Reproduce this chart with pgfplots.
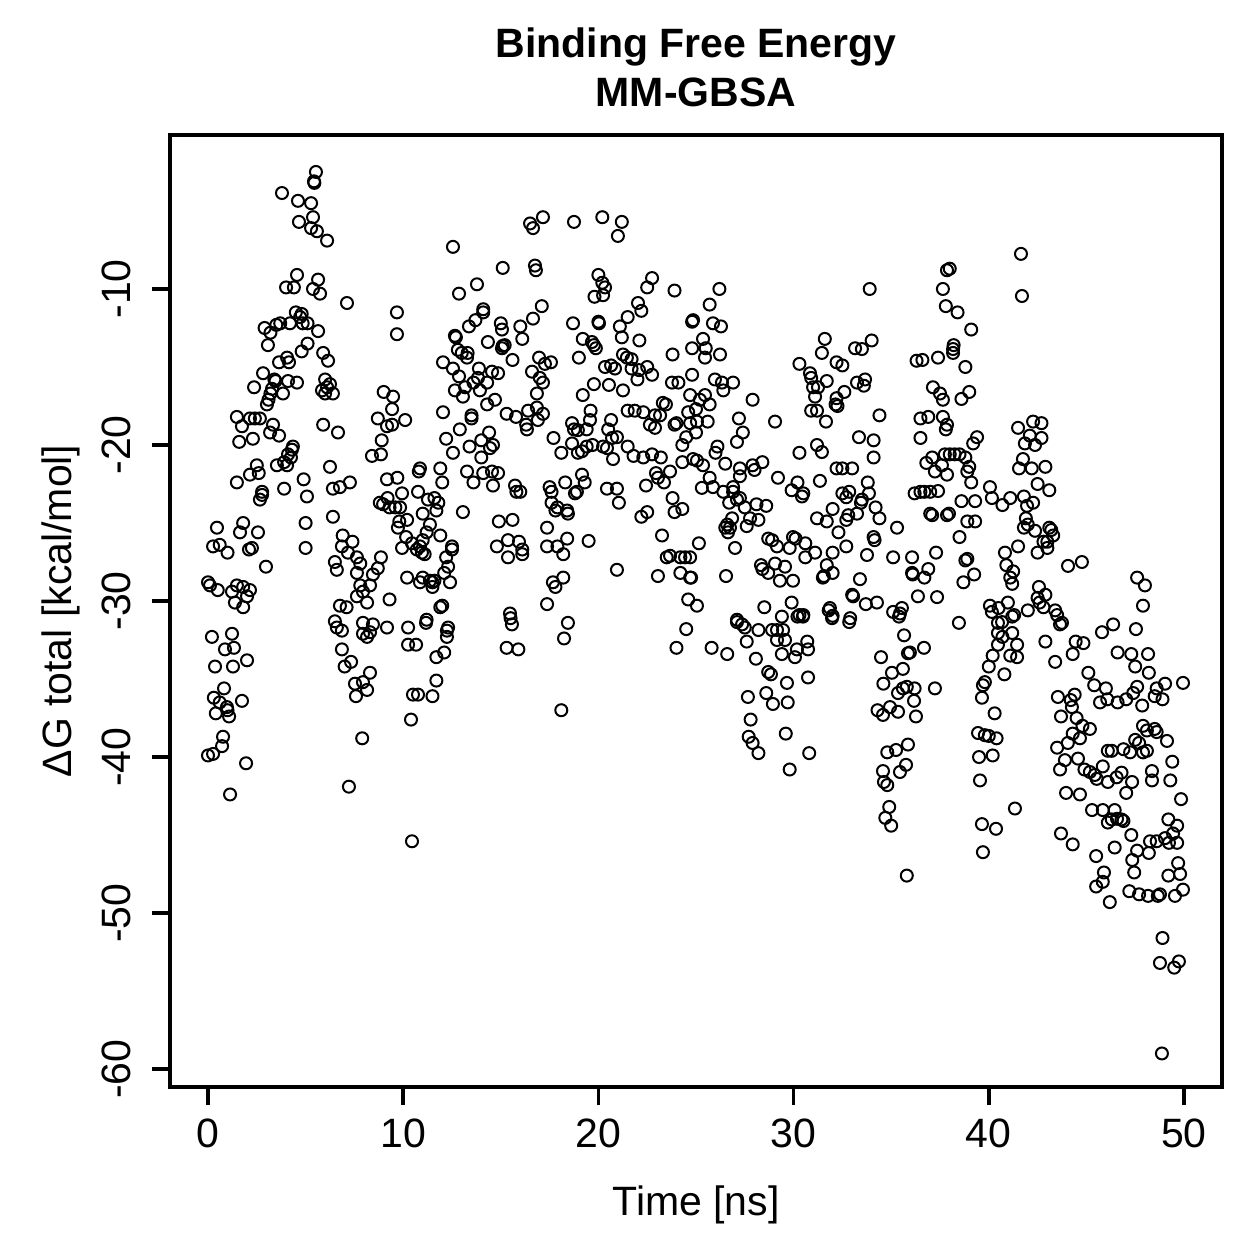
\documentclass[border=0pt]{standalone}
\usepackage{fontspec}
\setmainfont{Liberation Sans}
\usepackage{pgfplots}
\usepackage{pgfplotstable}
\pgfplotsset{compat=1.18}

% MM-GBSA binding free energy per frame (time in ns, energy in kcal/mol)
\pgfplotstableread{
t dg
5.53 -2.5
5.43 -3.1
5.45 -3.2
3.79 -3.85
4.61 -4.35
5.28 -4.5
5.38 -5.4
4.66 -5.7
5.28 -6.1
5.58 -6.3
6.10 -6.9
4.56 -9.1
5.64 -9.4
4.00 -9.9
4.40 -9.9
5.38 -10.0
5.74 -10.3
7.12 -10.9
9.68 -11.5
9.68 -12.9
4.50 -11.5
4.80 -11.6
4.72 -11.8
4.85 -12.2
5.10 -12.2
5.64 -12.7
2.90 -12.5
3.20 -12.8
3.50 -12.3
3.70 -12.2
4.20 -12.2
3.07 -13.6
5.10 -13.5
4.80 -14.0
5.90 -14.1
6.15 -14.6
3.64 -14.7
4.05 -14.4
4.15 -14.7
2.82 -15.4
3.40 -15.8
3.46 -15.9
4.10 -15.9
4.56 -16.0
2.36 -16.3
3.20 -16.7
3.28 -16.4
3.84 -16.7
6.00 -15.8
6.10 -16.3
6.25 -16.1
5.84 -16.5
6.00 -16.7
6.40 -16.7
3.02 -17.4
3.10 -17.1
1.48 -18.2
1.74 -18.8
2.15 -18.3
2.40 -18.3
2.66 -18.3
3.33 -18.7
3.18 -19.2
3.64 -19.4
1.60 -19.8
2.30 -19.6
5.90 -18.7
6.66 -19.2
9.00 -16.6
9.48 -16.9
9.43 -17.7
8.70 -18.3
9.17 -18.8
9.43 -18.7
10.10 -18.4
12.04 -14.7
12.04 -17.9
12.20 -19.6
8.90 -19.7
8.40 -20.7
8.86 -20.6
4.35 -20.1
4.30 -20.3
4.10 -20.6
2.50 -21.3
2.15 -21.9
2.60 -21.8
3.53 -21.3
3.90 -21.1
4.05 -21.3
4.25 -20.8
1.48 -22.4
2.77 -23.0
2.77 -23.2
2.66 -23.5
3.90 -22.8
4.90 -22.2
5.07 -23.3
6.25 -21.4
6.40 -22.8
6.76 -22.7
7.27 -22.4
6.40 -24.6
0.46 -25.3
1.80 -25.0
1.64 -25.6
2.56 -25.6
0.26 -26.5
0.60 -26.4
1.00 -26.9
2.10 -26.7
2.25 -26.6
2.97 -27.8
5.00 -25.0
5.00 -26.6
6.90 -25.8
7.40 -26.2
6.86 -26.5
7.17 -26.9
7.63 -27.2
7.80 -27.6
7.63 -28.2
6.50 -27.5
6.60 -28.0
8.86 -27.2
8.70 -27.9
8.45 -28.3
8.30 -29.0
7.80 -29.0
7.94 -29.4
7.63 -29.7
8.15 -30.1
9.30 -29.9
0.00 -28.8
0.10 -29.0
0.50 -29.3
1.23 -29.4
1.48 -29.0
1.80 -29.1
2.15 -29.3
2.00 -29.7
1.38 -30.1
1.80 -30.4
6.76 -30.3
7.10 -30.4
10.20 -28.5
9.17 -22.2
9.70 -22.1
9.94 -23.1
9.20 -23.4
8.80 -23.7
8.97 -23.8
9.30 -24.0
9.60 -24.0
9.84 -24.0
9.80 -24.9
9.73 -25.3
10.20 -24.8
10.15 -25.9
9.94 -26.6
10.45 -26.3
10.70 -26.7
10.86 -28.8
11.00 -28.5
11.50 -29.1
11.50 -28.8
12.00 -30.3
10.86 -21.5
10.80 -21.7
11.90 -21.5
12.00 -22.4
10.76 -23.0
11.27 -23.5
11.60 -23.4
11.80 -23.7
11.70 -24.2
11.00 -24.4
11.37 -25.1
11.20 -25.6
11.00 -26.1
10.86 -26.5
11.10 -27.0
10.96 -26.9
12.20 -27.2
12.30 -27.8
12.10 -28.2
11.37 -28.7
11.60 -28.7
11.90 -30.4
11.20 -31.2
0.20 -32.3
1.23 -32.1
0.87 -33.1
1.33 -33.0
0.36 -34.2
1.28 -34.2
2.00 -33.8
0.82 -35.6
0.30 -36.2
0.60 -36.5
0.97 -36.8
1.00 -37.0
1.08 -37.4
0.40 -37.2
1.74 -36.4
0.77 -38.7
0.72 -39.3
0.00 -39.9
0.26 -39.8
1.95 -40.4
1.13 -42.4
6.50 -31.3
6.60 -31.7
6.86 -31.9
7.94 -31.4
8.45 -31.5
9.17 -31.7
7.94 -32.1
8.15 -32.3
8.30 -32.0
6.86 -33.1
7.33 -33.9
7.00 -34.2
8.30 -34.6
7.94 -35.2
7.53 -35.3
8.15 -35.7
7.58 -36.1
7.90 -38.8
7.22 -41.9
10.25 -31.7
11.17 -31.4
10.25 -32.8
10.66 -32.8
11.70 -33.6
12.10 -33.3
12.24 -31.9
12.24 -32.3
11.70 -35.1
10.50 -36.0
10.76 -36.0
11.50 -36.1
10.40 -37.6
10.45 -45.4
16.50 -5.8
16.65 -6.1
17.16 -5.4
18.75 -5.7
20.20 -5.4
21.20 -5.7
21.00 -6.6
12.55 -7.3
15.10 -8.65
16.75 -8.5
16.80 -8.8
12.86 -10.3
13.78 -9.7
20.00 -9.1
20.20 -9.6
20.34 -9.9
19.80 -10.5
20.24 -10.4
22.75 -9.3
22.50 -9.9
23.90 -10.1
17.10 -11.1
16.65 -11.9
16.00 -12.4
16.10 -13.2
15.00 -12.2
15.06 -12.6
14.10 -11.3
14.10 -11.5
13.70 -12.0
13.37 -12.4
18.70 -12.2
20.00 -12.1
20.03 -12.2
22.03 -10.9
22.20 -11.4
21.50 -11.8
21.10 -12.4
21.20 -13.1
22.10 -13.3
24.80 -12.1
24.85 -12.0
12.65 -13.0
12.70 -13.1
14.34 -13.4
15.10 -13.65
15.20 -13.6
15.06 -13.8
19.20 -13.2
19.67 -13.4
19.77 -13.6
19.87 -13.8
24.80 -13.8
12.80 -13.9
13.00 -14.1
13.30 -14.1
13.27 -14.4
15.60 -14.55
16.96 -14.4
17.26 -14.8
17.57 -14.7
16.60 -15.3
17.00 -15.7
17.16 -16.0
16.85 -16.7
19.00 -14.4
21.26 -14.2
21.46 -14.4
21.70 -14.5
20.34 -15.0
20.65 -14.9
20.85 -15.1
21.70 -15.1
22.08 -15.2
22.50 -15.0
22.75 -15.5
22.00 -15.8
23.80 -14.2
24.80 -15.5
23.77 -16.0
24.10 -16.0
24.70 -16.8
12.55 -15.1
12.86 -15.6
13.17 -16.3
13.60 -16.0
13.88 -15.1
13.83 -15.7
13.93 -16.5
14.30 -16.0
14.55 -15.3
14.86 -15.4
14.70 -17.1
14.30 -17.4
12.65 -16.5
13.06 -16.9
16.85 -17.6
17.16 -18.0
16.40 -17.8
16.30 -18.7
16.34 -19.0
16.90 -18.4
15.78 -18.2
15.30 -18.0
19.20 -16.8
19.77 -16.1
20.54 -16.15
21.26 -16.5
19.60 -17.8
19.57 -18.4
18.65 -18.6
18.75 -19.0
18.95 -19.05
19.40 -19.0
20.65 -18.4
20.50 -19.0
21.50 -17.8
21.86 -17.8
22.30 -17.9
22.64 -18.7
22.90 -18.9
23.30 -17.3
23.46 -17.4
23.16 -18.1
22.90 -18.1
24.00 -18.6
23.90 -18.7
24.50 -19.5
24.30 -20.0
24.60 -17.9
25.00 -17.7
25.00 -19.2
12.90 -19.0
13.40 -20.1
12.55 -20.5
13.50 -18.3
13.50 -18.1
14.40 -19.2
14.00 -19.7
14.45 -20.2
14.60 -20.0
14.00 -20.8
17.70 -19.55
18.10 -20.5
18.65 -19.9
18.95 -20.5
19.16 -20.4
19.40 -20.1
19.70 -20.0
20.24 -20.1
20.44 -20.2
20.75 -20.9
20.70 -19.55
20.95 -19.5
21.50 -20.1
21.80 -20.7
22.30 -20.8
22.75 -20.6
23.20 -20.8
23.67 -21.7
24.30 -21.1
24.85 -20.9
13.27 -21.7
13.60 -22.4
14.10 -21.8
14.55 -21.7
14.86 -21.8
14.60 -22.6
15.73 -22.6
15.80 -23.0
16.00 -23.0
17.50 -22.7
17.60 -23.0
18.30 -22.4
18.90 -23.0
18.80 -23.1
19.16 -21.9
19.30 -22.4
20.44 -22.8
20.95 -22.8
21.05 -23.7
22.44 -22.6
22.95 -21.8
23.05 -22.1
23.36 -22.4
23.80 -23.4
23.90 -24.3
24.30 -24.1
22.20 -24.6
22.50 -24.3
17.60 -23.7
17.90 -24.0
17.80 -24.2
18.40 -24.2
18.44 -24.4
17.37 -25.3
17.37 -26.5
11.90 -25.8
13.06 -24.3
14.90 -24.9
15.60 -24.8
15.37 -26.1
15.93 -26.2
16.10 -26.7
16.10 -27.0
14.80 -26.5
15.37 -27.2
17.90 -26.5
18.20 -27.0
18.40 -26.0
19.50 -26.15
20.95 -28.0
23.26 -25.8
23.67 -27.1
23.50 -27.2
24.20 -27.2
24.44 -27.2
24.20 -28.2
24.75 -28.5
23.05 -28.4
12.50 -26.5
12.50 -26.7
12.40 -28.8
17.67 -28.8
17.80 -29.1
18.20 -28.5
17.37 -30.2
24.60 -29.9
25.05 -30.3
12.30 -31.7
15.47 -30.8
15.50 -31.1
15.57 -31.5
15.30 -33.0
15.90 -33.1
18.44 -31.4
18.24 -32.4
18.10 -37.0
24.50 -31.8
24.00 -33.0
26.20 -10.0
25.70 -11.0
33.90 -10.0
37.86 -8.8
37.65 -10.0
37.80 -11.1
25.87 -12.2
26.28 -12.4
25.36 -13.2
25.50 -13.8
25.46 -14.4
26.23 -14.2
25.97 -15.8
26.33 -16.0
26.90 -16.0
26.40 -16.5
25.46 -16.8
25.20 -17.1
25.70 -17.4
27.90 -17.1
27.20 -18.3
27.40 -19.2
27.10 -19.8
29.05 -18.5
25.05 -18.5
25.60 -18.5
24.70 -18.6
26.10 -20.1
26.00 -20.5
25.05 -21.0
25.36 -21.3
26.50 -21.2
27.25 -21.5
27.25 -22.0
27.90 -21.3
28.00 -21.6
28.40 -21.1
29.20 -22.1
25.70 -22.1
25.30 -22.75
25.87 -22.7
26.40 -23.0
26.90 -22.7
26.90 -23.0
27.25 -23.4
27.10 -23.5
26.70 -23.7
27.50 -24.0
28.10 -23.8
28.60 -23.9
26.85 -24.7
26.60 -25.1
26.74 -25.3
26.50 -25.3
26.64 -25.6
27.77 -24.7
28.20 -24.8
27.60 -25.2
27.00 -26.6
25.15 -26.3
24.70 -27.2
26.54 -28.4
24.70 -28.5
28.70 -26.0
28.90 -26.1
29.15 -26.5
29.80 -26.6
29.97 -25.9
30.10 -26.0
30.60 -26.3
30.60 -27.2
31.10 -26.9
28.33 -27.7
28.40 -27.95
28.70 -28.2
29.05 -27.6
29.30 -28.7
29.56 -27.8
29.97 -28.7
29.90 -30.1
30.30 -30.9
30.50 -30.9
28.50 -30.4
27.10 -31.2
29.40 -31.0
30.30 -20.5
31.20 -20.0
31.45 -20.45
31.60 -13.2
31.45 -14.1
31.66 -18.5
31.20 -17.8
30.90 -17.8
31.10 -16.9
30.84 -15.4
30.90 -15.7
31.00 -16.3
31.25 -16.3
31.70 -15.9
32.20 -14.7
32.50 -14.9
32.60 -16.6
32.20 -17.0
32.15 -17.4
32.25 -17.5
30.30 -14.8
33.15 -13.8
33.50 -13.85
34.00 -13.3
33.25 -16.0
33.66 -15.8
33.60 -16.2
33.35 -19.5
34.10 -19.7
34.10 -20.8
34.40 -18.1
32.20 -21.5
32.50 -21.5
33.00 -21.5
31.35 -22.3
30.20 -22.4
29.90 -22.9
30.50 -23.1
30.43 -23.3
33.80 -22.4
33.86 -23.1
32.50 -23.1
32.70 -23.35
32.85 -23.0
33.50 -23.5
33.45 -23.7
33.25 -24.4
32.80 -24.5
32.70 -24.8
32.00 -24.1
31.70 -24.9
31.20 -24.7
32.30 -25.6
34.20 -24.0
34.40 -24.7
34.10 -25.9
34.15 -26.1
35.30 -25.3
32.70 -26.5
33.76 -27.05
35.10 -27.2
32.00 -26.9
31.70 -27.7
32.00 -28.2
31.50 -28.5
31.55 -28.4
33.40 -28.6
33.00 -29.6
33.05 -29.7
33.70 -30.2
34.27 -30.1
31.86 -30.45
32.00 -30.95
32.90 -31.1
36.07 -27.2
36.07 -28.2
36.10 -28.3
36.70 -28.5
36.90 -27.95
37.30 -26.9
36.37 -29.7
37.35 -29.75
35.10 -30.7
35.45 -30.8
35.55 -30.45
36.30 -14.6
36.60 -14.55
37.40 -14.4
37.14 -16.3
37.50 -16.7
37.65 -17.1
37.65 -18.2
37.86 -18.7
36.50 -18.3
36.90 -18.2
36.50 -19.55
37.10 -20.8
36.80 -21.15
37.24 -21.7
37.60 -21.3
37.86 -21.9
37.75 -20.6
36.20 -23.1
36.50 -23.0
36.70 -23.0
37.00 -23.0
37.40 -22.95
37.00 -24.4
37.10 -24.5
37.86 -24.5
41.65 -7.75
41.70 -10.45
38.00 -8.7
38.40 -11.5
39.10 -12.6
38.20 -13.6
38.17 -13.85
38.17 -14.1
38.80 -15.0
39.00 -16.6
38.60 -17.05
37.80 -19.0
39.40 -19.5
39.20 -19.9
38.00 -20.6
38.25 -20.6
38.50 -20.6
38.80 -20.8
39.00 -21.4
38.90 -21.7
39.10 -22.4
38.60 -23.6
39.30 -23.6
37.96 -24.4
38.90 -24.9
39.30 -24.9
38.50 -25.9
38.80 -27.4
38.90 -27.3
38.70 -28.8
39.25 -28.3
40.06 -22.7
40.16 -23.4
40.70 -23.85
41.10 -23.4
41.80 -23.3
41.96 -23.9
42.27 -23.7
41.50 -18.9
42.27 -18.5
42.70 -18.6
42.10 -19.4
41.85 -19.9
42.37 -20.0
42.70 -19.55
41.75 -20.9
41.55 -21.5
42.20 -21.5
42.90 -21.4
42.50 -22.5
43.10 -22.9
41.90 -24.7
41.80 -25.3
42.00 -25.1
42.37 -25.5
43.10 -25.3
43.20 -25.45
43.30 -25.8
43.00 -26.2
42.80 -26.2
43.00 -26.6
42.50 -26.9
41.50 -26.5
40.83 -26.9
40.90 -27.7
41.10 -28.5
41.25 -28.1
41.20 -28.9
42.57 -29.1
42.90 -29.6
42.50 -29.8
42.80 -30.4
42.00 -30.6
40.06 -30.3
40.16 -30.7
40.50 -30.45
40.98 -30.1
41.30 -30.9
44.06 -27.75
44.77 -27.5
47.60 -28.5
48.00 -29.0
47.90 -30.3
27.10 -31.35
27.36 -31.5
27.50 -31.7
27.60 -32.6
28.20 -31.86
28.90 -31.86
29.15 -31.86
29.46 -31.86
29.15 -32.5
29.56 -32.5
30.20 -31.0
30.48 -31.0
31.80 -30.6
31.97 -31.1
32.85 -31.35
25.80 -33.0
26.60 -33.4
28.07 -33.7
28.70 -34.55
28.84 -34.7
29.66 -35.25
29.40 -33.4
30.07 -33.6
30.70 -32.6
30.74 -33.1
30.17 -33.1
30.74 -34.9
27.66 -36.15
28.60 -35.9
28.94 -36.6
29.70 -36.5
27.80 -37.6
27.70 -38.7
27.90 -39.1
28.20 -39.75
29.60 -38.5
30.80 -39.75
29.80 -40.8
35.40 -31.0
35.66 -32.2
35.96 -33.3
35.86 -33.35
36.68 -33.0
34.48 -33.6
35.04 -34.6
35.60 -34.35
34.60 -35.3
35.35 -35.9
35.80 -35.5
35.60 -35.6
36.20 -35.6
37.24 -35.6
36.17 -36.4
34.30 -37.0
34.58 -37.3
34.94 -36.8
35.35 -37.1
36.27 -37.4
35.86 -39.2
35.25 -39.55
34.80 -39.7
35.76 -40.5
35.45 -40.96
34.58 -40.9
34.63 -41.6
34.80 -41.8
34.90 -43.2
34.70 -43.9
35.00 -44.4
35.80 -47.6
38.47 -31.4
40.47 -31.4
40.68 -31.35
41.20 -31.0
40.47 -32.05
40.70 -32.3
41.20 -32.05
40.47 -32.8
41.45 -32.8
40.20 -33.5
41.10 -33.5
41.45 -33.6
40.00 -34.2
40.80 -34.7
39.80 -35.2
39.70 -35.4
39.65 -36.2
40.30 -37.2
42.60 -30.1
43.40 -30.6
43.50 -30.9
43.65 -31.5
43.75 -31.4
42.90 -32.6
44.45 -32.6
44.85 -32.7
44.30 -33.4
43.40 -33.9
45.80 -32.0
46.37 -31.5
47.54 -31.8
39.45 -38.46
39.80 -38.6
40.00 -38.65
40.40 -38.8
39.50 -40.0
40.20 -39.9
39.55 -41.5
41.34 -43.3
39.65 -44.3
40.37 -44.6
39.70 -46.1
46.60 -33.3
47.30 -33.4
48.16 -33.4
47.50 -34.2
48.20 -34.6
45.10 -34.6
45.40 -35.4
46.00 -35.6
46.07 -36.3
45.70 -36.5
46.60 -36.5
47.04 -36.3
47.40 -35.9
47.60 -35.5
48.60 -35.6
49.03 -35.3
49.95 -35.25
48.90 -36.3
47.86 -36.7
48.50 -36.1
43.54 -36.15
44.20 -36.35
44.40 -36.0
44.26 -36.8
43.70 -37.4
44.50 -37.5
44.80 -38.0
45.18 -38.2
44.30 -38.5
44.05 -39.1
43.50 -39.4
44.67 -38.8
43.90 -40.2
43.65 -40.8
44.57 -40.1
43.96 -42.3
44.67 -42.4
45.18 -40.96
44.90 -40.8
45.43 -41.15
45.53 -41.4
45.84 -40.6
46.10 -41.6
46.55 -41.3
46.80 -41.0
47.34 -41.6
47.04 -42.3
45.29 -43.4
45.84 -43.4
46.45 -43.4
46.10 -44.2
46.30 -44.0
46.57 -43.96
46.80 -44.0
46.90 -44.1
47.30 -45.0
46.45 -45.8
45.50 -46.35
47.60 -46.0
48.20 -46.15
47.35 -46.6
47.45 -47.4
45.90 -47.4
45.84 -48.0
45.50 -48.3
47.20 -48.6
47.70 -48.8
46.20 -49.3
48.16 -48.9
48.77 -48.8
48.66 -48.9
49.54 -48.9
49.95 -48.5
49.80 -47.5
49.70 -46.8
49.20 -47.6
49.20 -44.0
49.65 -44.4
49.44 -44.9
49.65 -45.5
49.23 -45.5
49.03 -45.2
48.60 -45.4
48.26 -45.4
49.13 -38.97
49.40 -40.3
49.30 -41.5
48.36 -40.9
48.36 -41.5
47.90 -39.7
48.10 -39.6
47.70 -39.1
47.50 -38.9
46.90 -39.5
46.10 -39.6
46.30 -39.6
47.24 -39.7
47.90 -38.0
48.10 -38.3
48.50 -38.2
48.60 -38.4
49.85 -42.7
43.70 -44.9
44.30 -45.6
48.90 -51.6
48.77 -53.2
49.50 -53.5
49.74 -53.1
48.87 -59.0
}\gbsa

\begin{document}
\fontsize{10.25}{12.3}\selectfont
\begin{tikzpicture}
\path[use as bounding box] (-42.5pt,-43pt) rectangle (272.25pt,271.75pt);
\begin{axis}[
  at={(0pt,0pt)}, anchor=south west,
  scale only axis, width=263pt, height=238pt,
  xmin=-1.947, xmax=51.95, ymin=-61.15, ymax=-0.13,
  clip=false,
  xtick={0,10,20,30,40,50},
  xticklabels={0,10,20,30,40,50},
  ytick={-60,-50,-40,-30,-20,-10},
  yticklabels={-60,-50,-40,-30,-20,-10},
  xtick pos=bottom, ytick pos=left,
  tick align=outside, major tick length=4.5pt,
  axis line style={line width=0.9pt},
  every tick/.style={black, line width=0.9pt},
  tick label style={font=\fontsize{10.25}{12.3}\selectfont},
  xticklabel style={anchor=north, inner sep=0pt, yshift=-3.25pt},
  yticklabel style={xshift=-5.4pt, rotate=90, anchor=base, inner sep=0pt},
  xlabel={Time [ns]},
  ylabel={ΔG total [kcal/mol]},
  xlabel style={at={(axis description cs:0.5,-0.1355)}, anchor=base, inner sep=0pt},
  ylabel style={at={(axis description cs:-0.0932,0.5)}, anchor=base, inner sep=0pt},
]
\addplot[only marks, mark=o, mark size=1.5pt, black,
  mark options={line width=0.5pt}] table[x=t, y=dg] {\gbsa};
\node[font=\bfseries, anchor=base, inner sep=0pt] at (axis description cs:0.5,1.0809) {Binding Free Energy};
\node[font=\bfseries, anchor=base, inner sep=0pt] at (axis description cs:0.5,1.0294) {MM-GBSA};
\end{axis}
\end{tikzpicture}
\end{document}
